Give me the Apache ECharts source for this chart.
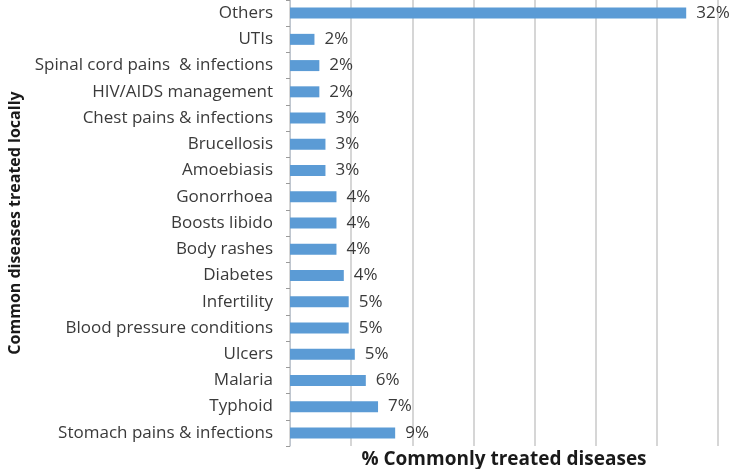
<!DOCTYPE html>
<html><head><meta charset="utf-8">
<script src="https://cdn.jsdelivr.net/npm/echarts@6/dist/echarts.min.js"></script>
<style>html,body{margin:0;padding:0;background:#fff}#c{width:739px;height:469px}</style>
</head><body><div id="c"></div>
<script>
const categories = ["Others","UTIs","Spinal cord pains  & infections","HIV/AIDS management","Chest pains & infections","Brucellosis","Amoebiasis","Gonorrhoea","Boosts libido","Body rashes","Diabetes","Infertility","Blood pressure conditions","Ulcers","Malaria","Typhoid","Stomach pains & infections"];
const values = [32.4,2.0,2.4,2.4,2.9,2.9,2.9,3.8,3.8,3.8,4.4,4.8,4.8,5.3,6.2,7.2,8.6];
const xTicks = [0,5,10,15,20,25,30,35];
const xName = "% Commonly treated diseases";
const yName = "Common diseases treated locally";

const chart = echarts.init(document.getElementById('c'));
chart.setOption({
  animation:false,
  grid:{left:290,right:21,top:0,bottom:23,containLabel:false,outerBoundsMode:'none'},
  xAxis:{type:'value',min:xTicks[0],max:xTicks[xTicks.length-1],interval:5,
    axisLabel:{show:false},axisLine:{show:false},axisTick:{show:false},
    splitLine:{show:true,lineStyle:{color:'#c8c8c8',width:1.5}},
    name:xName,nameLocation:'middle',nameGap:4,
    nameTextStyle:{fontFamily:'Open Sans',fontWeight:'bold',fontSize:19,color:'#1a1a1a'}},
  yAxis:{type:'category',data:categories,inverse:true,
    axisLine:{show:true,lineStyle:{color:'#bfc6cf',width:1}},
    axisTick:{show:true,length:4,interval:0,lineStyle:{color:'#9a9a9a'}},
    axisLabel:{fontFamily:'Open Sans',fontSize:17,color:'#3a3a3a',margin:17},
    name:yName,nameLocation:'middle',nameGap:264,
    nameTextStyle:{fontFamily:'Open Sans',fontWeight:'bold',fontSize:16,color:'#1a1a1a'}},
  series:[{type:'bar',data:values,barWidth:11,
    itemStyle:{color:'#5b9bd5'},
    label:{show:true,position:'right',distance:10,fontFamily:'Open Sans',fontSize:17,color:'#3a3a3a',
      formatter:p=>Math.round(p.value)+'%'}}]
});
</script></body></html>
